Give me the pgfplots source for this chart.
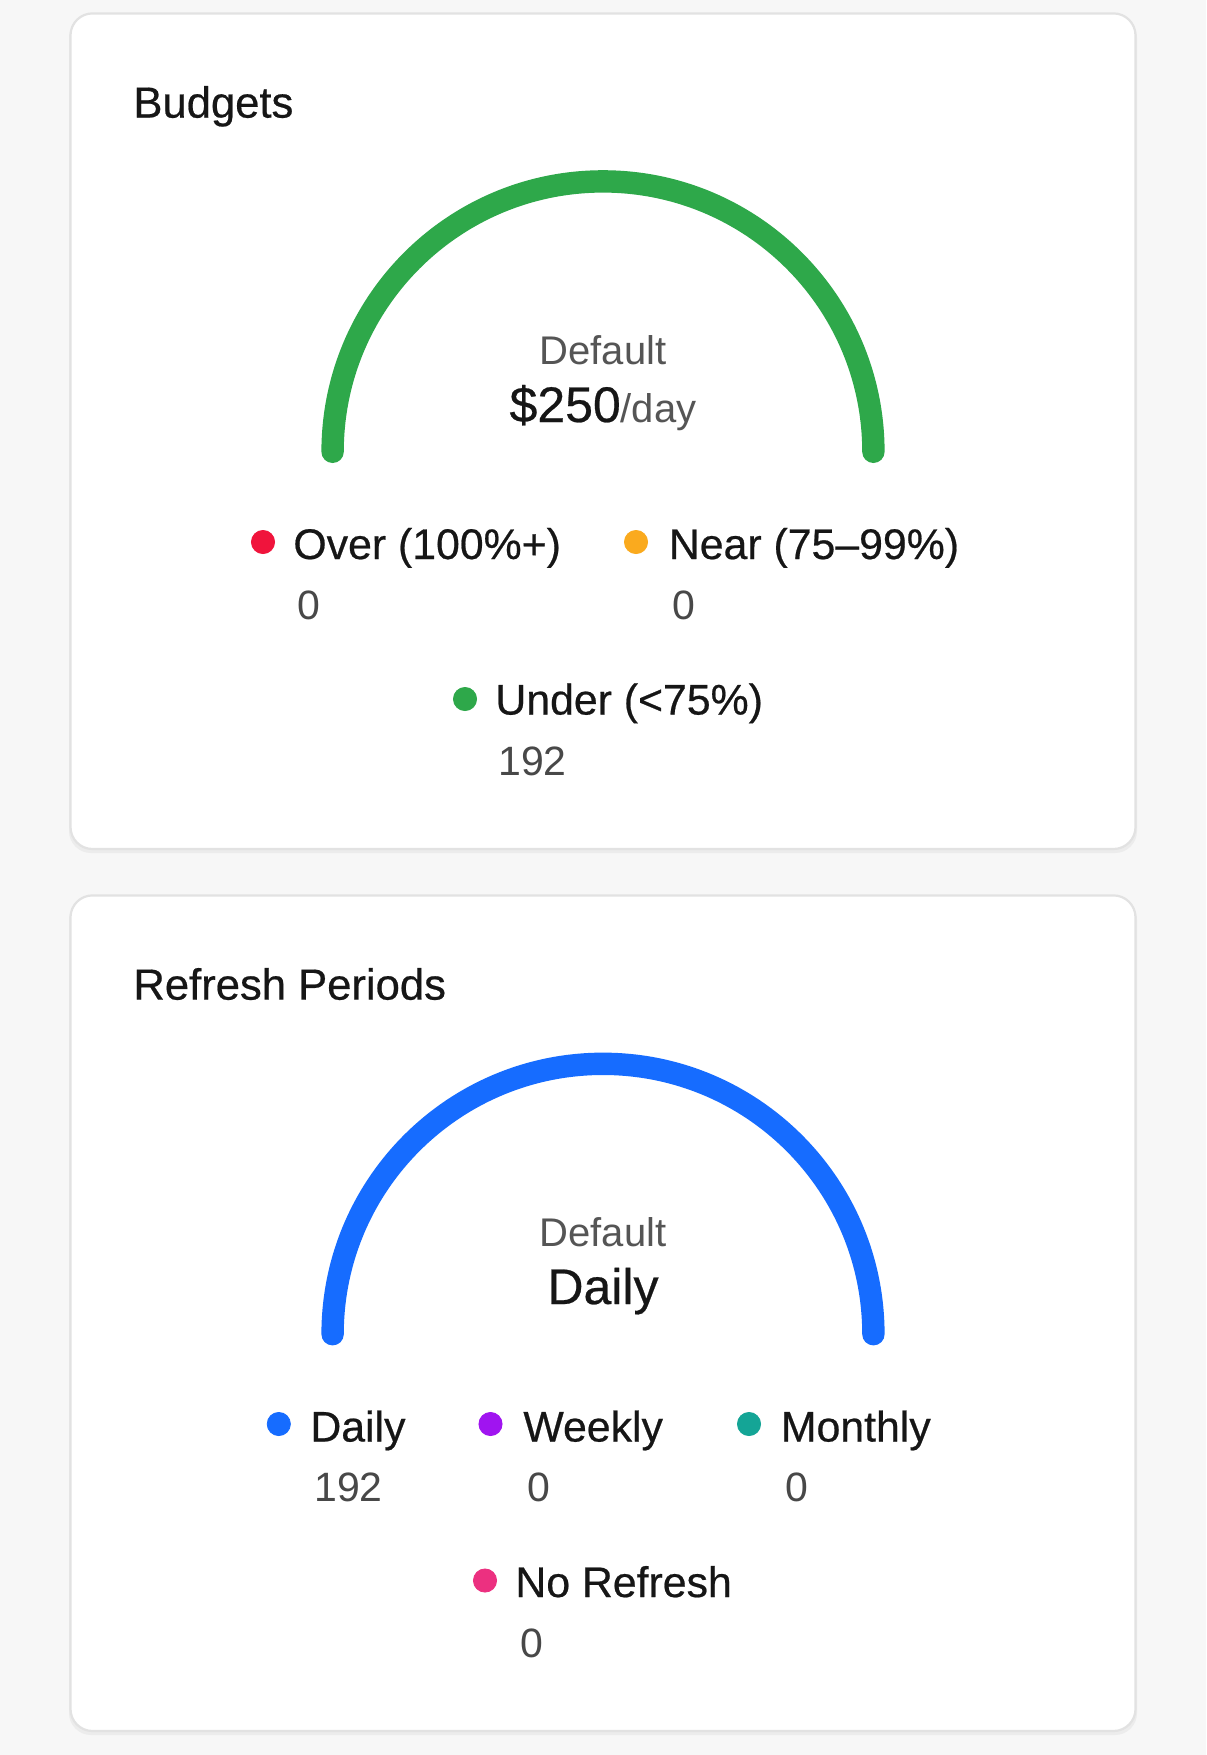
\documentclass[border=0pt]{standalone}
\usepackage{pgfplots}
\pgfplotsset{compat=1.18}
\usepackage{fontspec}
\setmainfont{Liberation Sans}
\newfontfamily\medfont[FakeBold=0.5]{Liberation Sans}
\definecolor{bggray}{RGB}{247,247,247}
\definecolor{cardborder}{RGB}{226,226,226}
\definecolor{shadowgray}{RGB}{236,236,236}
\definecolor{gGreen}{RGB}{46,168,74}
\definecolor{gBlue}{RGB}{22,108,255}
\definecolor{cRed}{RGB}{240,20,60}
\definecolor{cOrange}{RGB}{250,170,30}
\definecolor{cPurple}{RGB}{160,20,240}
\definecolor{cTeal}{RGB}{20,165,150}
\definecolor{cPink}{RGB}{236,48,128}
\definecolor{txtDark}{RGB}{22,22,22}
\definecolor{txtGray}{RGB}{85,85,85}
\definecolor{valGray}{RGB}{72,72,72}
\newcommand{\titlefont}{\medfont\fontsize{21.8}{26}\selectfont}
\newcommand{\labfont}{\medfont\fontsize{21.4}{26}\selectfont}
\newcommand{\valfont}{\fontsize{20.5}{25}\selectfont}
\newcommand{\subfont}{\fontsize{20}{24}\selectfont}
\newcommand{\bigfont}{\medfont\fontsize{25}{30}\selectfont}
% counts
\pgfmathsetmacro\budgetTotal{0+0+192}
\pgfmathsetmacro\budgetEnd{180-180*(192/\budgetTotal)}
\pgfmathsetmacro\refreshTotal{192+0+0+0}
\pgfmathsetmacro\refreshEnd{180-180*(192/\refreshTotal)}
\begin{document}
\begin{tikzpicture}
\begin{axis}[
  width=603pt, height=877.5pt, scale only axis,
  xmin=0, xmax=1206, ymin=0, ymax=1755, y dir=reverse,
  hide axis, clip=false,
]
% background
\fill[bggray] (axis cs:0,0) rectangle (axis cs:1206,1755);
% card 1
\fill[shadowgray, rounded corners=11pt] (axis cs:69,16) rectangle (axis cs:1137,853);
\draw[fill=white, draw=cardborder, line width=1.1pt, rounded corners=11pt] (axis cs:70.5,13.4) rectangle (axis cs:1135.5,849);
% card 2
\fill[shadowgray, rounded corners=11pt] (axis cs:69,898) rectangle (axis cs:1137,1735);
\draw[fill=white, draw=cardborder, line width=1.1pt, rounded corners=11pt] (axis cs:70.5,895.4) rectangle (axis cs:1135.5,1731);
% titles
\node[anchor=base west, text=txtDark, inner sep=0pt] at (axis cs:133,117.6) {\titlefont Budgets};
\node[anchor=base west, text=txtDark, inner sep=0pt] at (axis cs:133,999.6) {\titlefont Refresh Periods};
% gauge 1
\draw[gGreen, line width=11.2pt, line cap=round] (axis cs:332.6,451.8) arc[start angle=180, end angle=\budgetEnd, radius=135.2pt];
\node[anchor=base, text=txtGray, inner sep=0pt] at (axis cs:603,364) {\subfont Default};
\node[anchor=base, inner sep=0pt] at (axis cs:603,422) {\textcolor{txtDark}{\bigfont \$250}\textcolor{txtGray}{\subfont /day}};
% gauge 2
\draw[gBlue, line width=11.2pt, line cap=round] (axis cs:332.6,1334.2) arc[start angle=180, end angle=\refreshEnd, radius=135.2pt];
\node[anchor=base, text=txtGray, inner sep=0pt] at (axis cs:603,1246) {\subfont Default};
\node[anchor=base, text=txtDark, inner sep=0pt] at (axis cs:603,1304) {\bigfont Daily};
% legend dots card 1
\addplot[only marks, mark=*, mark size=5.8pt, color=cRed] coordinates {(263,542)};
\addplot[only marks, mark=*, mark size=5.8pt, color=cOrange] coordinates {(636,542)};
\addplot[only marks, mark=*, mark size=5.8pt, color=gGreen] coordinates {(465,699)};
\node[anchor=base west, text=txtDark, inner sep=0pt] at (axis cs:293,559) {\labfont Over (100\%+)};
\node[anchor=base west, text=valGray, inner sep=0pt] at (axis cs:297,619) {\valfont 0};
\node[anchor=base west, text=txtDark, inner sep=0pt] at (axis cs:668.5,559) {\labfont Near (75–99\%)};
\node[anchor=base west, text=valGray, inner sep=0pt] at (axis cs:672,619) {\valfont 0};
\node[anchor=base west, text=txtDark, inner sep=0pt] at (axis cs:495,714.5) {\labfont Under (<75\%)};
\node[anchor=base west, text=valGray, inner sep=0pt] at (axis cs:498,775) {\valfont 192};
% legend dots card 2
\addplot[only marks, mark=*, mark size=5.8pt, color=gBlue] coordinates {(278.8,1424)};
\addplot[only marks, mark=*, mark size=5.8pt, color=cPurple] coordinates {(490.5,1424)};
\addplot[only marks, mark=*, mark size=5.8pt, color=cTeal] coordinates {(749,1424)};
\addplot[only marks, mark=*, mark size=5.8pt, color=cPink] coordinates {(485,1580.5)};
\node[anchor=base west, text=txtDark, inner sep=0pt] at (axis cs:310,1441.5) {\labfont Daily};
\node[anchor=base west, text=valGray, inner sep=0pt] at (axis cs:314,1501.5) {\valfont 192};
\node[anchor=base west, text=txtDark, inner sep=0pt] at (axis cs:523,1441.5) {\labfont Weekly};
\node[anchor=base west, text=valGray, inner sep=0pt] at (axis cs:527,1501.5) {\valfont 0};
\node[anchor=base west, text=txtDark, inner sep=0pt] at (axis cs:780.5,1441.5) {\labfont Monthly};
\node[anchor=base west, text=valGray, inner sep=0pt] at (axis cs:785,1501.5) {\valfont 0};
\node[anchor=base west, text=txtDark, inner sep=0pt] at (axis cs:515,1597) {\labfont No Refresh};
\node[anchor=base west, text=valGray, inner sep=0pt] at (axis cs:520,1657) {\valfont 0};
\end{axis}
\end{tikzpicture}
\end{document}
